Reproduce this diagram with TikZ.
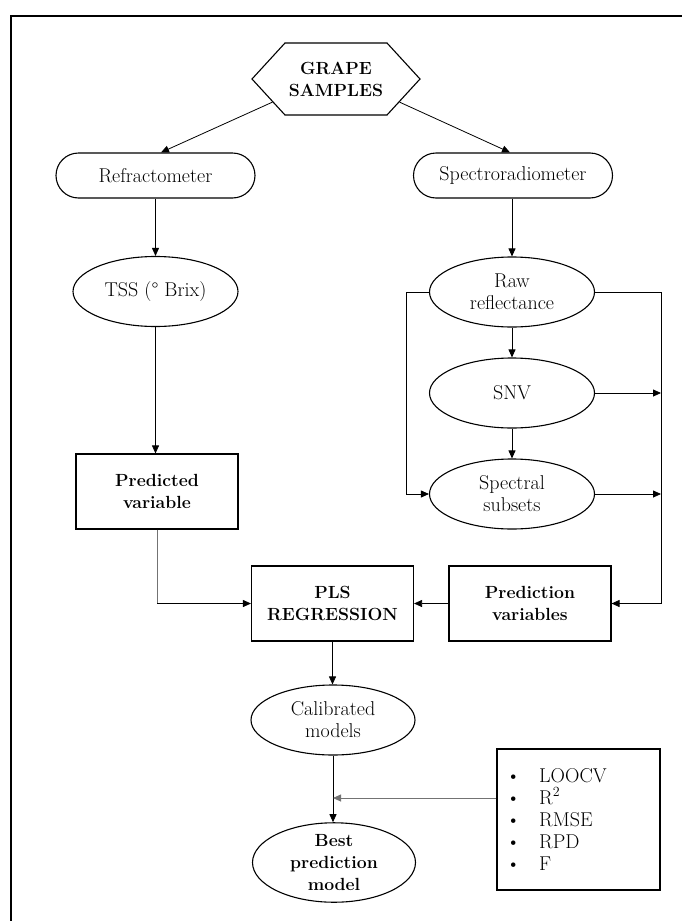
\documentclass[tikz,border=0pt]{standalone}
\usetikzlibrary{shapes.misc,shapes.geometric,shapes.symbols,arrows.meta,calc}
\begin{document}
\begin{tikzpicture}[x=1pt,y=-1pt,
  every node/.style={font=\fontsize{20}{22}\selectfont, align=center, inner sep=0pt},
  boldfont/.style={font=\fontsize{17.6}{22}\selectfont\bfseries},
  shapeline/.style={draw, line width=1.1pt},
  oval/.style={shapeline, ellipse, minimum width=165pt, minimum height=70pt},
  pill/.style={shapeline, rounded rectangle, minimum width=199pt, minimum height=45pt},
  boxnode/.style={shapeline, rectangle, minimum width=162pt, minimum height=75pt, boldfont},
  hexnode/.style={shapeline, signal, signal to=east and west, signal pointer angle=95, minimum width=168pt, minimum height=72pt, boldfont},
  conn/.style={line width=0.8pt, -{Triangle[length=8pt,width=7pt]}},
  grayline/.style={line width=0.8pt, draw=black!55},
]
\useasboundingbox (0,0) rectangle (682,921);
\draw[line width=2pt] (11,921) -- (11,16) -- (682,16);

\node[hexnode] (grape) at (336,79) {GRAPE\\SAMPLES};
\node[pill] (refr) at (155.5,175.5) {Refractometer};
\node[pill] (spec) at (513,175.5) {Spectroradiometer};
\node[oval] (tss) at (155.5,291.5) {TSS (\textdegree{} Brix)};
\node[oval] (raw) at (512,292) {Raw\\reflectance};
\node[oval] (snv) at (512,393) {SNV};
\node[oval] (subs) at (512,494) {Spectral\\subsets};
\node[boxnode] (pred) at (157,491.5) {Predicted\\variable};
\node[boxnode] (pls) at (332.5,603.5) {PLS\\REGRESSION};
\node[boxnode] (pvars) at (530,603.5) {Prediction\\variables};
\node[oval, minimum width=164pt] (calib) at (333,720) {Calibrated\\models};
\node[oval, minimum width=163pt, minimum height=71pt, boldfont] (best) at (334,862.5) {Best\\prediction\\model};
\node[shapeline, rectangle, minimum width=163pt, minimum height=141pt] (crit) at (578.5,819.5) {};
\node[anchor=north west, align=left] (critlist) at (506,768.3)
  {\makebox[33pt][l]{\textbullet}LOOCV\\
   \makebox[33pt][l]{\textbullet}R\textsuperscript{2}\\
   \makebox[33pt][l]{\textbullet}RMSE\\
   \makebox[33pt][l]{\textbullet}RPD\\
   \makebox[33pt][l]{\textbullet}F};

\coordinate (lx) at (406,0);
\coordinate (rx) at (661,0);

\draw[conn] (grape.200) -- ([xshift=5.5pt]refr.north);
\draw[conn] (grape.340) -- ([xshift=-3pt]spec.north);
\draw[conn] (refr.south) -- (tss.north);
\draw[conn] (raw.north |- spec.south) -- (raw.north);
\draw[conn] (tss.south) -- (tss.south |- pred.north);
\draw[conn] (raw.south) -- (snv.north);
\draw[conn] (snv.south) -- (subs.north);
\draw[conn] (raw.west) -- (raw.west -| lx) -- (lx |- subs.west) -- (subs.west);
\draw[conn] (raw.east) -- (raw.east -| rx) -- (rx |- pvars.east) -- (pvars.east);
\draw[conn] (snv.east) -- (snv.east -| rx);
\draw[conn] (subs.east) -- (subs.east -| rx);
\draw[conn] (pvars.west) -- (pls.east);
\draw[grayline] (pred.south) -- (pred.south |- pls.west);
\draw[conn] (pred.south |- pls.west) -- (pls.west);
\draw[conn] (pls.south) -- (pls.south |- calib.north);
\draw[conn] (calib.south) -- (calib.south |- best.north);
\draw[conn, draw=black!55, fill=black] ([yshift=21.5pt]crit.west) -- ([yshift=21.5pt]crit.west -| calib.south);
\end{tikzpicture}
\end{document}
